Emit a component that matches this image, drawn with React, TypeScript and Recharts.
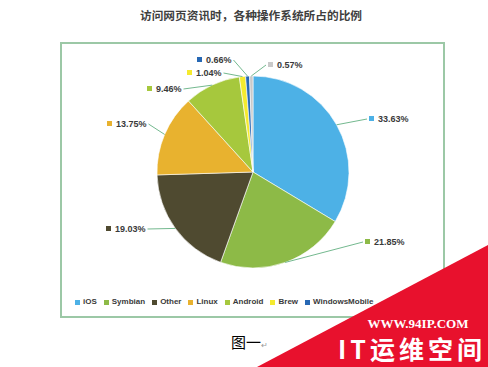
import React from 'react';
import { PieChart, Pie, Cell } from 'recharts';

// ---- data ----
const categories = ['iOS', 'Symbian', 'Other', 'Linux', 'Android', 'Brew', 'WindowsMobile', 'Unlisted'];
const shares = [33.63, 21.85, 19.03, 13.75, 9.46, 1.04, 0.66, 0.57];
const legendNames = ['iOS', 'Symbian', 'Other', 'Linux', 'Android', 'Brew', 'WindowsMobile'];
const titleText = '访问网页资讯时，各种操作系统所占的比例';
const captionText = '图一';

// ---- style / layout ----
const colors = ['#4DB1E6', '#8DBA47', '#4F4A30', '#E8B22F', '#A6C83D', '#F5EA2E', '#2768B4', '#C9C9C9'];
// label square position relative to pie centre (px)
const labelSpots: [number, number][] = [
  [116, -53], [112, 70], [-147, 57], [-146, -48], [-106, -83], [-66, -99], [-56, -112], [15, -107],
];
const LABEL_FONT = 9;
const RAD = Math.PI / 180;

const textWidth = (t: string) => {
  let w = 0;
  for (const ch of t) {
    if (ch === '.') w += 0.278;
    else if (ch === '%') w += 0.889;
    else w += 0.556;
  }
  return w * LABEL_FONT;
};

const data = categories.map((c, i) => ({ name: c, value: shares[i] }));

const renderLabel = (props: any) => {
  const { cx, cy, midAngle, outerRadius, index } = props;
  const sx = cx + outerRadius * Math.cos(-midAngle * RAD);
  const sy = cy + outerRadius * Math.sin(-midAngle * RAD);
  const [dx, dy] = labelSpots[index];
  const text = shares[index].toFixed(2) + '%';
  const w = textWidth(text);
  const left = cx + dx;
  const y = cy + dy;
  const onRight = left > cx;
  const ex = onRight ? left - 2 : left + 5 + 4 + w + 2;
  return (
    <g key={`lbl-${index}`}>
      <polyline points={`${sx},${sy} ${ex},${y}`} stroke="#74B98F" strokeWidth={1} fill="none" />
      <rect x={left} y={y - 3} width={5} height={5} fill={colors[index]} />
      <text
        x={left + 9}
        y={y}
        dominantBaseline="central"
        fontFamily="'Liberation Sans', Arial, sans-serif"
        fontWeight="bold"
        fontSize={LABEL_FONT}
        fill="#3A3A3A"
      >
        {text}
      </text>
    </g>
  );
};

export default function App() {
  return (
    <div style={{ position: 'absolute', left: 0, top: 0, width: 488, height: 367, background: '#fff', overflow: 'hidden' }}>
      {/* frame */}
      <div
        style={{
          position: 'absolute',
          left: 60,
          top: 42,
          width: 381,
          height: 272,
          border: '2px solid #9CC8A6',
        }}
      />
      {/* title */}
      <div
        style={{
          position: 'absolute',
          left: 0,
          width: 502,
          top: 7,
          textAlign: 'center',
          fontFamily: "'Noto Sans CJK SC', sans-serif",
          fontWeight: 'bold',
          fontSize: 11.7,
          color: '#3F3F3F',
          lineHeight: '16px',
        }}
      >
        {titleText}
      </div>
      <div style={{ position: 'absolute', left: 0, top: 0 }}>
        <PieChart width={488} height={367} margin={{ top: 0, right: 0, bottom: 0, left: 0 }}>
          <Pie
            data={data}
            dataKey="value"
            nameKey="name"
            cx={253}
            cy={172}
            outerRadius={96}
            startAngle={90}
            endAngle={-270}
            stroke="#ffffff"
            strokeWidth={0.6}
            labelLine={false}
            label={renderLabel}
            isAnimationActive={false}
          >
            {data.map((d, i) => (
              <Cell key={d.name} fill={colors[i]} />
            ))}
          </Pie>
        </PieChart>
      </div>
      {/* legend */}
      <div
        style={{
          position: 'absolute',
          left: 75,
          top: 296,
          display: 'flex',
          alignItems: 'center',
          fontFamily: "'Liberation Sans', Arial, sans-serif",
          fontWeight: 'bold',
          fontSize: 8,
          color: '#3A3A3A',
          lineHeight: '12px',
          whiteSpace: 'nowrap',
        }}
      >
        {legendNames.map((n, i) => (
          <div key={n} style={{ display: 'flex', alignItems: 'center', marginRight: 7 }}>
            <span style={{ display: 'inline-block', width: 5, height: 5, background: colors[i], marginRight: 3 }} />
            <span>{n}</span>
          </div>
        ))}
      </div>
      {/* caption */}
      <div
        style={{
          position: 'absolute',
          left: 231,
          top: 332,
          fontFamily: "'Noto Sans CJK SC', serif",
          fontSize: 15,
          color: '#000',
          lineHeight: '20px',
          whiteSpace: 'nowrap',
        }}
      >
        {captionText}
        <span style={{ fontSize: 8, color: '#999' }}>↵</span>
      </div>
      {/* watermark */}
      <svg width={488} height={367} style={{ position: 'absolute', left: 0, top: 0 }}>
        <polygon points="257,367 488,245 488,367" fill="#E8112D" />
        <text x={418} y={328} textAnchor="middle" fill="#fff" fontFamily="'Liberation Serif', serif" fontWeight="bold" fontSize={13}>
          WWW.94IP.COM
        </text>
        <text x={412} y={359} textAnchor="middle" fill="#fff" fontFamily="'Noto Sans CJK SC', sans-serif" fontWeight="bold" fontSize={25} letterSpacing={4}>
          IT运维空间
        </text>
      </svg>
    </div>
  );
}
